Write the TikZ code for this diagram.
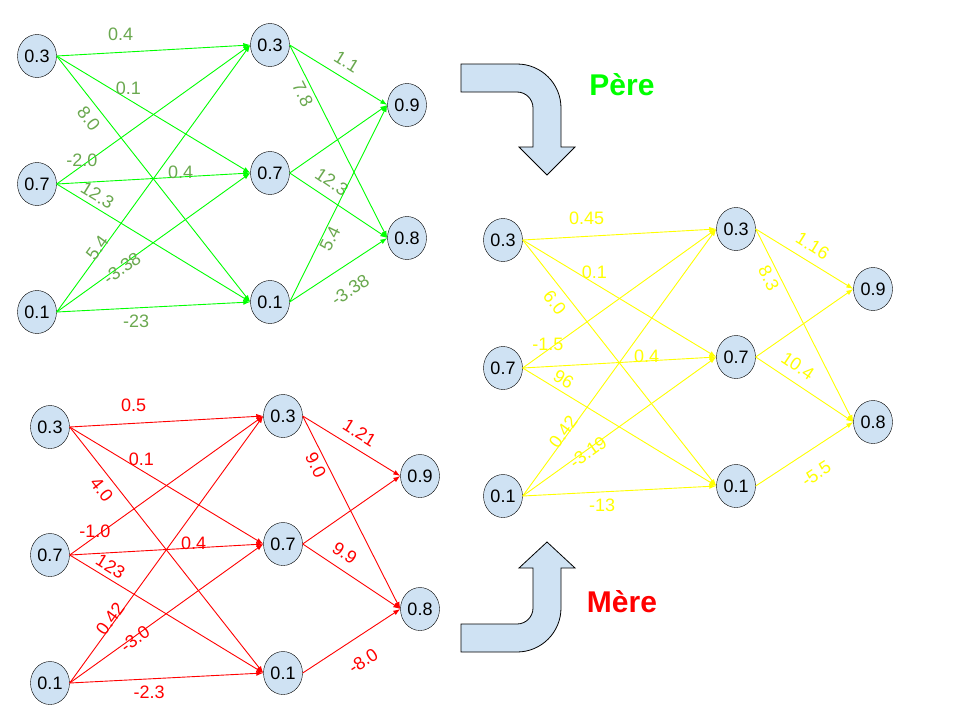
\documentclass[tikz,border=0pt]{standalone}
\usepackage{fontspec}
\setmainfont{Liberation Sans}
\usetikzlibrary{shapes.geometric,arrows.meta}

\definecolor{nodeblue}{HTML}{CFE2F3}
\definecolor{pgreen}{HTML}{00FF00}
\definecolor{plabel}{HTML}{6AA84F}
\definecolor{mred}{HTML}{FF0000}
\definecolor{cyellow}{HTML}{FFFF00}

\tikzset{
  neuron/.style={ellipse,draw,fill=nodeblue,minimum width=39pt,minimum height=43pt,
    inner sep=0pt,font=\fontsize{18}{20}\selectfont},
  weight/.style={font=\fontsize{18}{20}\selectfont,inner sep=0pt},
  link/.style={draw,line width=0.9pt,-{Latex[length=7pt,width=5pt]}},
  bigarrow/.style={draw=black,fill=nodeblue,line width=0.8pt}
}

\begin{document}
\begin{tikzpicture}[x=1pt,y=-1pt]
  \useasboundingbox (0,0) rectangle (960,720);

  % father network
  \begin{scope}
    \begin{scope}[every node/.style=neuron]
      \node (pa1) at (37,56)  {0.3};
      \node (pa2) at (37,184) {0.7};
      \node (pa3) at (37,312) {0.1};
      \node (pb1) at (270,45)  {0.3};
      \node (pb2) at (270,173) {0.7};
      \node (pb3) at (270,302) {0.1};
      \node (pc1) at (407,105) {0.9};
      \node (pc2) at (407,238) {0.8};
    \end{scope}

    \begin{scope}[every node/.style={weight,text=plabel},every edge/.style={link,draw=pgreen}]
      \path (pa1.east) edge node[pos=.33,yshift=18pt] {0.4} (pb1.west);
      \path (pa1.east) edge node[pos=.37,yshift=10.5pt] {0.1} (pb2.west);
      \path (pa1.east) edge node[pos=.22,sloped,yshift=-13.5pt] {8.0} (pb3.west);
      \path (pa2.east) edge node[pos=.13,yshift=6pt] {-2.0} (pb1.west);
      \path (pa2.east) edge node[pos=.64,yshift=4.5pt] {0.4} (pb2.west);
      \path (pa2.east) edge node[pos=.18,sloped,yshift=11.5pt] {12.3} (pb3.west);
      \path (pa3.east) edge node[pos=.23,sloped,yshift=5pt] {5.4} (pb1.west);
      \path (pa3.east) edge node[pos=.33,sloped,yshift=-2.5pt] {-3.38} (pb2.west);
      \path (pa3.east) edge node[pos=.41,yshift=-13pt] {-23} (pb3.west);
      \path (pb1.east) edge node[pos=.5,sloped,yshift=15.5pt] {1.1} (pc1.west);
      \path (pb1.east) edge node[pos=.23,sloped,yshift=-10.5pt] {7.8} (pc2.west);
      \path (pb2.east) edge (pc1.west);
      \path (pb2.east) edge node[pos=.34,sloped,yshift=16pt] {12.3} (pc2.west);
      \path (pb3.east) edge node[pos=.34,sloped,yshift=-8pt] {5.4} (pc1.west);
      \path (pb3.east) edge node[pos=.49,sloped,yshift=-23pt] {-3.38} (pc2.west);
    \end{scope}
  \end{scope}

  % mother network
  \begin{scope}[shift={(13,371)}]
    \begin{scope}[every node/.style=neuron]
      \node (ma1) at (37,56)  {0.3};
      \node (ma2) at (37,184) {0.7};
      \node (ma3) at (37,312) {0.1};
      \node (mb1) at (270,45)  {0.3};
      \node (mb2) at (270,173) {0.7};
      \node (mb3) at (270,302) {0.1};
      \node (mc1) at (407,105) {0.9};
      \node (mc2) at (407,238) {0.8};
    \end{scope}

    \begin{scope}[every node/.style={weight,text=mred},every edge/.style={link,draw=mred}]
      \path (ma1.east) edge node[pos=.33,yshift=18pt] {0.5} (mb1.west);
      \path (ma1.east) edge node[pos=.37,yshift=10.5pt] {0.1} (mb2.west);
      \path (ma1.east) edge node[pos=.22,sloped,yshift=-13.5pt] {4.0} (mb3.west);
      \path (ma2.east) edge node[pos=.13,yshift=6pt] {-1.0} (mb1.west);
      \path (ma2.east) edge node[pos=.64,yshift=4.5pt] {0.4} (mb2.west);
      \path (ma2.east) edge node[pos=.18,sloped,yshift=11.5pt] {123} (mb3.west);
      \path (ma3.east) edge node[pos=.23,sloped,yshift=5pt] {0.42} (mb1.west);
      \path (ma3.east) edge node[pos=.33,sloped,yshift=-2.5pt] {-3.0} (mb2.west);
      \path (ma3.east) edge node[pos=.41,yshift=-13pt] {-2.3} (mb3.west);
      \path (mb1.east) edge node[pos=.5,sloped,yshift=15.5pt] {1.21} (mc1.west);
      \path (mb1.east) edge node[pos=.23,sloped,yshift=-10.5pt] {9.0} (mc2.west);
      \path (mb2.east) edge (mc1.west);
      \path (mb2.east) edge node[pos=.34,sloped,yshift=16pt] {9.9} (mc2.west);
      \path (mb3.east) edge node[pos=.49,sloped,yshift=-23pt] {-8.0} (mc2.west);
    \end{scope}
  \end{scope}

  % child network
  \begin{scope}[shift={(466,184)}]
    \begin{scope}[every node/.style=neuron]
      \node (ca1) at (37,56)  {0.3};
      \node (ca2) at (37,184) {0.7};
      \node (ca3) at (37,312) {0.1};
      \node (cb1) at (270,45)  {0.3};
      \node (cb2) at (270,173) {0.7};
      \node (cb3) at (270,302) {0.1};
      \node (cc1) at (407,105) {0.9};
      \node (cc2) at (407,238) {0.8};
    \end{scope}

    \begin{scope}[every node/.style={weight,text=cyellow},every edge/.style={link,draw=cyellow}]
      \path (ca1.east) edge node[pos=.33,yshift=18pt] {0.45} (cb1.west);
      \path (ca1.east) edge node[pos=.37,yshift=10.5pt] {0.1} (cb2.west);
      \path (ca1.east) edge node[pos=.22,sloped,yshift=-13.5pt] {6.0} (cb3.west);
      \path (ca2.east) edge node[pos=.13,yshift=6pt] {-1.5} (cb1.west);
      \path (ca2.east) edge node[pos=.64,yshift=4.5pt] {0.4} (cb2.west);
      \path (ca2.east) edge node[pos=.18,sloped,yshift=11.5pt] {96} (cb3.west);
      \path (ca3.east) edge node[pos=.23,sloped,yshift=5pt] {0.42} (cb1.west);
      \path (ca3.east) edge node[pos=.33,sloped,yshift=-2.5pt] {-3.19} (cb2.west);
      \path (ca3.east) edge node[pos=.41,yshift=-13pt] {-13} (cb3.west);
      \path (cb1.east) edge node[pos=.5,sloped,yshift=15.5pt] {1.16} (cc1.west);
      \path (cb1.east) edge node[pos=.23,sloped,yshift=-10.5pt] {8.3} (cc2.west);
      \path (cb2.east) edge (cc1.west);
      \path (cb2.east) edge node[pos=.34,sloped,yshift=16pt] {10.4} (cc2.west);
      \path (cb3.east) edge node[pos=.49,sloped,yshift=-23pt] {-5.5} (cc2.west);
    \end{scope}
  \end{scope}

  % turning arrows
  \draw[bigarrow] (461,64) -- (517,64) arc[start angle=90,end angle=0,radius=44pt]
    -- (561,147) -- (575,147) -- (547,175) -- (519,147) -- (533,147) -- (533,108)
    arc[start angle=0,end angle=90,radius=16pt] -- (461,92) -- cycle;
  \draw[bigarrow] (533,568) -- (533,608) arc[start angle=0,end angle=-90,radius=16pt]
    -- (461,624) -- (461,652) -- (517,652) arc[start angle=-90,end angle=0,radius=44pt]
    -- (561,568) -- (575,568) -- (547,542) -- (519,568) -- cycle;

  \node[text=pgreen,font=\fontsize{30}{36}\selectfont\bfseries] (pere) at (622,85) {Père};
  \node[text=mred,font=\fontsize{30}{36}\selectfont\bfseries] (mere) at (622,602) {Mère};

\end{tikzpicture}
\end{document}
